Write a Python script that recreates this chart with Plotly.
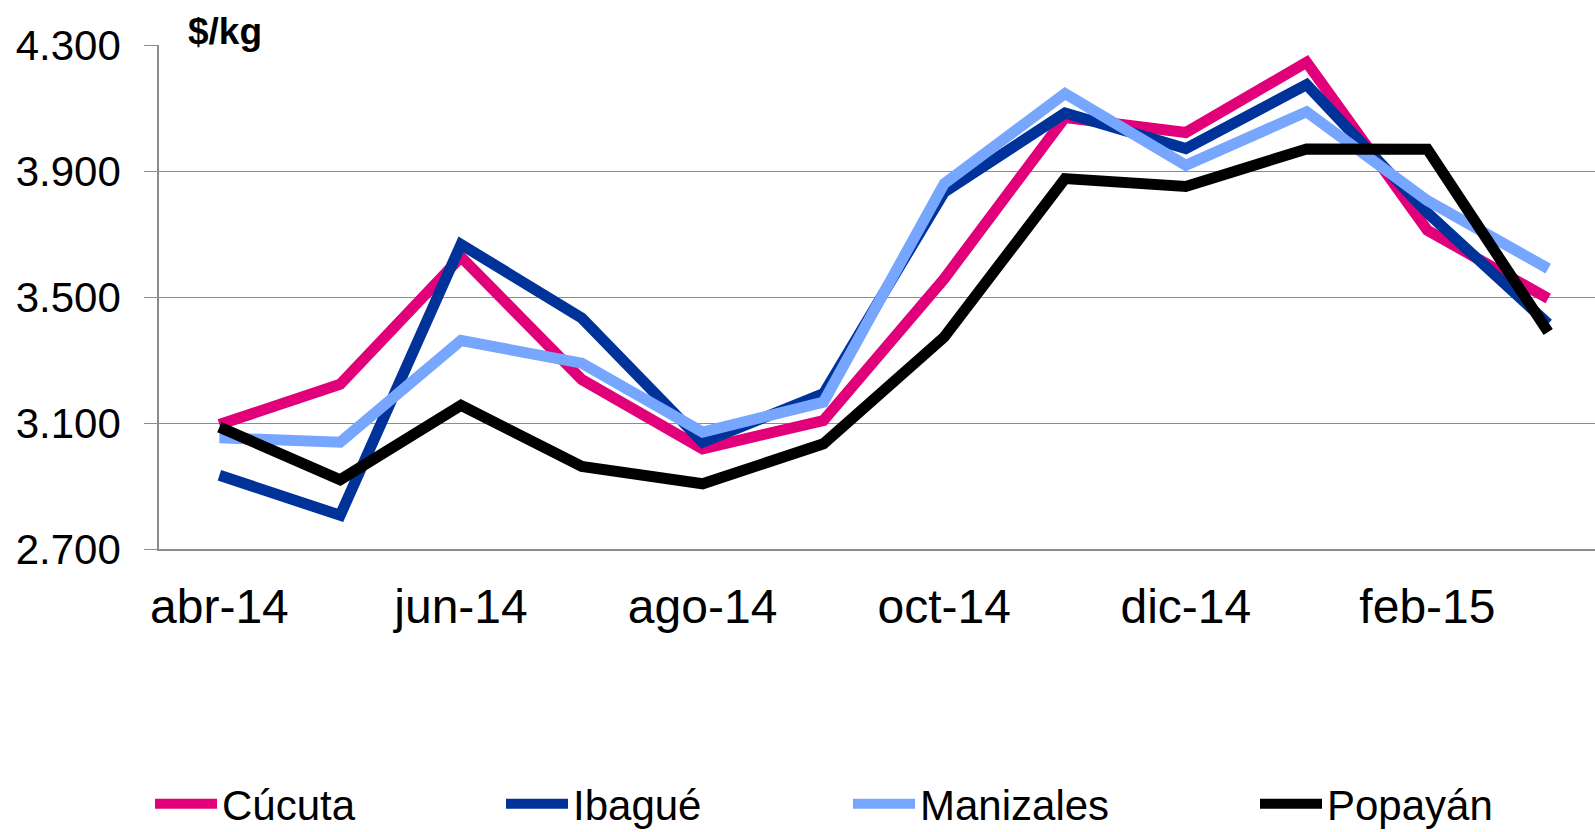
import plotly.graph_objects as go

months = ["abr-14", "may-14", "jun-14", "jul-14", "ago-14", "sep-14",
          "oct-14", "nov-14", "dic-14", "ene-15", "feb-15", "mar-15"]
tick_labels = ["abr-14", "jun-14", "ago-14", "oct-14", "dic-14", "feb-15"]

cucuta = [3095, 3223, 3627, 3238, 3018, 3108, 3558, 4070, 4022, 4245, 3712, 3495]
ibague = [2934, 2807, 3667, 3433, 3039, 3193, 3833, 4084, 3971, 4174, 3767, 3415]
manizales = [3053, 3039, 3362, 3290, 3071, 3166, 3860, 4146, 3918, 4088, 3806, 3590]
popayan = [3087, 2920, 3156, 2962, 2907, 3034, 3373, 3876, 3851, 3970, 3969, 3389]

series = [
    ("Cúcuta", cucuta, "#E2007A"),
    ("Ibagué", ibague, "#003399"),
    ("Manizales", manizales, "#77A6FF"),
    ("Popayán", popayan, "#000000"),
]

W, H = 1595, 832
L, R, T, B = 159, 0, 45, 283
plot_w = W - L - R
plot_h = H - T - B

x_idx = list(range(len(months)))
cat_px = 120.8
x_max = 11.5 - (L + 12 * cat_px - W) / cat_px

legend_px = [150, 501, 848, 1255]

fig = go.Figure()
legend_names = ["legend", "legend2", "legend3", "legend4"]
for i, (name, vals, color) in enumerate(series):
    fig.add_trace(go.Scatter(
        x=x_idx, y=vals, name=name, mode="lines",
        line=dict(color=color, width=11),
        legend=legend_names[i],
    ))

font = "Liberation Sans, Arial, sans-serif"
layout_legends = {}
for i, ln in enumerate(legend_names):
    layout_legends[ln] = dict(
        x=legend_px[i] / W, xref="container", xanchor="left",
        y=1 - 804 / H, yanchor="middle", yref="container",
        orientation="h", font=dict(family=font, size=42, color="black"),
        itemwidth=62, bgcolor="rgba(0,0,0,0)", borderwidth=0,
        tracegroupgap=0, itemclick=False,
    )

fig.update_layout(
    width=W, height=H,
    margin=dict(l=L, r=R, t=T, b=B, pad=0, autoexpand=False),
    paper_bgcolor="white", plot_bgcolor="white",
    separators=",.",
    font=dict(family=font, color="black"),
    showlegend=True,
    xaxis=dict(
        range=[-0.5, x_max], tickmode="array",
        tickvals=[0, 2, 4, 6, 8, 10], ticktext=tick_labels,
        showgrid=False, zeroline=False,
        showline=True, linecolor="#8c8c8c", linewidth=1.5,
        ticks="", tickfont=dict(family=font, size=48, color="black"),
        ticklabelstandoff=15, automargin=False,
    ),
    yaxis=dict(
        range=[2700, 4300], tickmode="linear", tick0=2700, dtick=400,
        tickformat=",d",
        showgrid=True, gridcolor="#8c8c8c", gridwidth=1.3,
        zeroline=False,
        showline=True, linecolor="#8c8c8c", linewidth=1.5,
        ticks="outside", ticklen=13, tickcolor="#8c8c8c", tickwidth=1.3,
        tickfont=dict(family=font, size=42, color="black"),
        ticklabelstandoff=15, automargin=False,
    ),
    annotations=[dict(
        text="<b>$/kg</b>", xref="paper", yref="paper",
        x=(186 - L) / plot_w, xanchor="left",
        y=1 + (T - 31) / plot_h, yanchor="middle",
        showarrow=False, font=dict(family=font, size=37, color="black"),
    )],
    **layout_legends,
)

fig.write_html("out.html", config={"displayModeBar": False},
               post_script="document.body.style.margin='0';")
